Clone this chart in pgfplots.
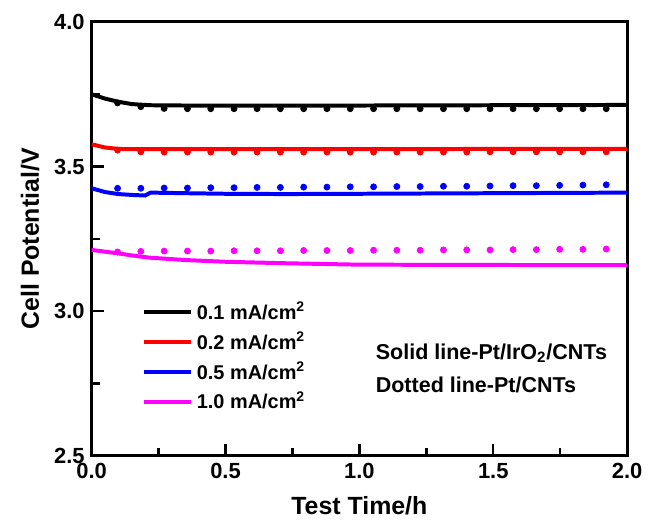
\documentclass[border=0pt]{standalone}
\usepackage{pgfplots}
\pgfplotsset{compat=1.18}
\usepackage{pgfplotstable}
\usepackage{fontspec}
\setmainfont{Liberation Sans}

% solid lines (Pt/IrO2/CNTs)
\pgfplotstableread{
t     k      r      b      m
0.00  3.750  3.577  3.425  3.212
0.05  3.735  3.566  3.412  3.206
0.10  3.724  3.561  3.405  3.200
0.15  3.716  3.560  3.402  3.193
0.20  3.713  3.560  3.400  3.187
0.22  3.712  3.560  3.410  3.185
0.35  3.711  3.560  3.408  3.177
0.50  3.711  3.560  3.406  3.171
0.72  3.711  3.560  3.405  3.166
1.00  3.711  3.560  3.406  3.161
1.50  3.712  3.561  3.408  3.160
2.00  3.713  3.561  3.410  3.159
}\solid

% dotted lines (Pt/CNTs)
\pgfplotstableread{
t      k      r      b      m
0.097  3.720  3.557  3.425  3.205
0.184  3.707  3.551  3.425  3.207
0.271  3.701  3.550  3.426  3.208
0.358  3.700  3.550  3.426  3.208
0.445  3.700  3.550  3.427  3.208
0.532  3.700  3.550  3.427  3.209
0.618  3.700  3.550  3.428  3.209
0.705  3.700  3.550  3.428  3.209
0.792  3.700  3.550  3.429  3.210
0.879  3.700  3.550  3.429  3.210
0.966  3.700  3.550  3.430  3.210
1.053  3.700  3.550  3.430  3.211
1.140  3.700  3.550  3.431  3.211
1.227  3.700  3.550  3.431  3.211
1.314  3.700  3.550  3.432  3.212
1.401  3.700  3.550  3.432  3.212
1.488  3.700  3.551  3.433  3.212
1.574  3.700  3.551  3.434  3.213
1.661  3.700  3.551  3.434  3.213
1.748  3.700  3.551  3.435  3.214
1.835  3.700  3.551  3.436  3.214
1.922  3.700  3.551  3.437  3.215
}\dotted

\definecolor{cmag}{RGB}{255,0,255}

\begin{document}
\begin{tikzpicture}
\begin{axis}[
    scale only axis,
    width=269pt, height=218pt,
    xmin=0, xmax=2, ymin=2.5, ymax=4.0,
    xtick={0,0.5,...,2.0}, ytick={2.5,3.0,3.5,4.0},
    minor x tick num=1, minor y tick num=1,
    tick align=inside, xtick pos=left, ytick pos=left,
    major tick length=6pt, minor tick length=4pt,
    every tick/.style={line width=1.2pt, black},
    axis line style={line width=1.5pt},
    /pgf/number format/.cd, fixed, fixed zerofill, precision=1, assume math mode=true,
    /pgfplots/.cd,
    ticklabel style={font=\fontsize{11}{13}\selectfont\bfseries},
    label style={font=\fontsize{12.5}{14}\selectfont\bfseries},
    xlabel={Test Time/h}, ylabel={Cell Potential/V},
    xlabel style={at={(axis description cs:0.5,-0.115)}, anchor=center},
    ylabel style={at={(axis description cs:-0.115,0.5)}, anchor=center},
    legend cell align=left,
    legend image code/.code={\draw[#1] (0pt,0pt) -- (23.5pt,0pt);},
    legend style={at={(axis cs:0.165,3.06)}, anchor=north west, draw=none, fill=none,
        font=\fontsize{10}{12}\selectfont\bfseries, row sep=1pt},
]
\addplot[black, line width=2pt] table[x=t, y=k] {\solid};
\addlegendentry{0.1 mA/cm\textsuperscript{2}}
\addplot[red, line width=2pt] table[x=t, y=r] {\solid};
\addlegendentry{0.2 mA/cm\textsuperscript{2}}
\addplot[blue, line width=2pt] table[x=t, y=b] {\solid};
\addlegendentry{0.5 mA/cm\textsuperscript{2}}
\addplot[cmag, line width=2pt] table[x=t, y=m] {\solid};
\addlegendentry{1.0 mA/cm\textsuperscript{2}}

\addplot[forget plot, only marks, mark=*, mark size=1.5pt, black] table[x=t, y=k] {\dotted};
\addplot[forget plot, only marks, mark=*, mark size=1.5pt, red] table[x=t, y=r] {\dotted};
\addplot[forget plot, only marks, mark=*, mark size=1.5pt, blue] table[x=t, y=b] {\dotted};
\addplot[forget plot, only marks, mark=*, mark size=1.5pt, cmag] table[x=t, y=m] {\dotted};

\node[anchor=west, font=\fontsize{10.8}{13}\selectfont\bfseries, inner sep=0pt] at (axis cs:1.06,2.855) {Solid line-Pt/IrO\textsubscript{2}/CNTs};
\node[anchor=west, font=\fontsize{10.8}{13}\selectfont\bfseries, inner sep=0pt] at (axis cs:1.06,2.745) {Dotted line-Pt/CNTs};
\end{axis}
\path[use as bounding box] (-46pt,-31pt) rectangle (278.5pt,229pt);
\end{tikzpicture}
\end{document}
